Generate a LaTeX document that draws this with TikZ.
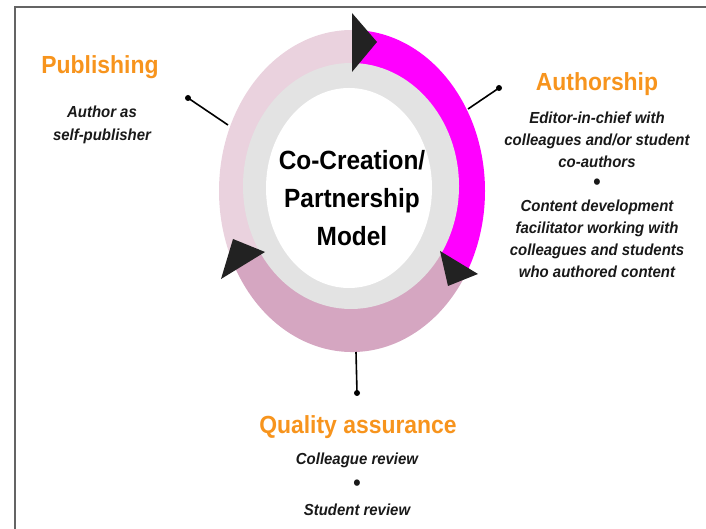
\documentclass[tikz,border=0pt]{standalone}
\usepackage{fontspec}
\setmainfont{Liberation Sans}
\usepackage{tikz}
\usetikzlibrary{positioning}
\definecolor{titleorange}{RGB}{247,148,29}
\definecolor{ringlight}{RGB}{234,210,222}
\definecolor{ringdark}{RGB}{213,166,193}
\definecolor{ringmag}{RGB}{255,0,255}
\definecolor{ringgrey}{RGB}{227,227,227}
\definecolor{arrowdark}{RGB}{34,34,34}
\definecolor{framegrey}{RGB}{100,100,100}
\newcommand{\sepdot}{{\fontsize{21}{20}\selectfont\upshape •}}

\begin{document}
\begin{tikzpicture}[x=1bp, y=1bp,
    title/.style={font=\fontsize{23}{27}\selectfont\bfseries, text=titleorange, yscale=1.08},
    body/.style={font=\fontsize{15}{#1}\selectfont\bfseries\itshape, text=black!90, align=center, yscale=1.07},
    body/.default=20.65,
    dot/.style={circle, fill=black, inner sep=0pt, minimum size=6bp}]
    \useasboundingbox (0,0) rectangle (706,529);
    \draw[framegrey, line width=2bp] (15,0) -- (15,522) -- (706,522);
    \fill[ringmag] (352,338) -- ++(90:133 and 161) arc[start angle=90, end angle=-31, x radius=133, y radius=161] -- cycle;
    \fill[ringlight] (352,338) -- ++(90:133 and 161) arc[start angle=90, end angle=207, x radius=133, y radius=161] -- cycle;
    \fill[ringdark] (352,338) -- ++(207:133 and 161) arc[start angle=207, end angle=329, x radius=133, y radius=161] -- cycle;
    \fill[ringgrey] (351,343) ellipse[x radius=108, y radius=123];
    \fill[white] (349,341) ellipse[x radius=83, y radius=100];
    \fill[arrowdark] (352,516) -- (377,487) -- (352,457) -- cycle;
    \fill[arrowdark] (440,278) -- (478,255) -- (448,243) -- cycle;
    \fill[arrowdark] (265,277) -- (233,290) -- (221,250) -- cycle;
    \node[font=\fontsize{24.5}{35.2}\selectfont\bfseries, align=center, yscale=1.08] (model) at (352,331) {Co-Creation/\\Partnership\\Model};
    \node[title] (pubtitle) at (100,462) {Publishing};
    \node[body=21.5] (pubtext) at (102,404.5) {Author as\\self-publisher};
    \node[title] (authtitle) at (597,445) {Authorship};
    \node[body] (authtext) at (597,334.5) {Editor-in-chief with\\colleagues and/or student\\co-authors\\\sepdot\\Content development\\facilitator working with\\colleagues and students\\who authored content};
    \node[title] (qatitle) at (358,102) {Quality assurance};
    \node[body=23.8] (qatext) at (357,44.5) {Colleague review\\\sepdot\\Student review};
    \node[dot] (pubdot) at (188,431) {};
    \coordinate (pubring) at (228,404);
    \node[dot] (authdot) at (499,441) {};
    \coordinate (authring) at (468,420);
    \node[dot] (qadot) at (357,136) {};
    \coordinate (qaring) at (356,177);
    \draw[line width=1.6bp] (pubdot.center) -- (pubring);
    \draw[line width=1.6bp] (authdot.center) -- (authring);
    \draw[line width=1.6bp] (qadot.center) -- (qaring);
\end{tikzpicture}
\end{document}
